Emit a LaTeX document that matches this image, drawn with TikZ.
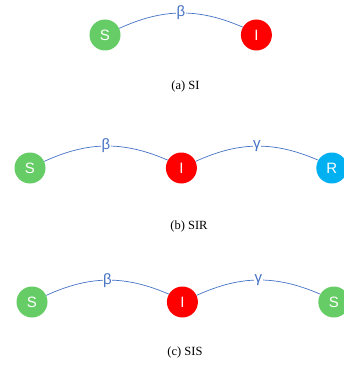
\documentclass[tikz,border=0pt]{standalone}
\usepackage{fontspec}
\setmainfont{Liberation Serif}
\newfontfamily\statefont{Liberation Sans}
\usetikzlibrary{positioning}
\definecolor{sgreen}{RGB}{102,204,102}
\definecolor{ired}{RGB}{255,0,0}
\definecolor{rblue}{RGB}{0,176,240}
\definecolor{linkblue}{RGB}{68,114,196}

\begin{document}
\begin{tikzpicture}[x=1pt,y=-1pt,
    state/.style={circle,fill=#1,text=white,minimum size=31pt,inner sep=0pt,font=\statefont\fontsize{15}{15}\selectfont},
    link/.style={draw=linkblue,line width=0.7pt,bend left=24},
    rate/.style={midway,fill=white,inner sep=0.5pt,text=linkblue,font=\statefont\fontsize{15}{15}\selectfont},
    caption/.style={font=\fontsize{12.5}{14}\selectfont}]
      \useasboundingbox (0,0) rectangle (343,366);
      % (a) SI
      \node (a-s) [state=sgreen] at (105,35) {S};
      \node (a-i) [state=ired, right=120pt of a-s] {I};
      \draw[link] (a-s.25) to node[rate] {β} (a-i.150);
      \node (a-cap) [caption] at (185.5,86) {(a) SI};
      % (b) SIR
      \node (b-s) [state=sgreen] at (30,168) {S};
      \node (b-i) [state=ired, right=120pt of b-s] {I};
      \node (b-r) [state=rblue, right=119pt of b-i] {R};
      \draw[link] (b-s.25) to node[rate] {β} (b-i.150);
      \draw[link] (b-i.25) to node[rate] {γ} (b-r.150);
      \node (b-cap) [caption] at (189,226) {(b) SIR};
      % (c) SIS
      \node (c-s1) [state=sgreen] at (32,302) {S};
      \node (c-i) [state=ired, right=119pt of c-s1] {I};
      \node (c-s2) [state=sgreen, right=120pt of c-i] {S};
      \draw[link] (c-s1.25) to node[rate] {β} (c-i.150);
      \draw[link] (c-i.25) to node[rate] {γ} (c-s2.150);
      \node (c-cap) [caption] at (185,352) {(c) SIS};
    \end{tikzpicture}
\end{document}
